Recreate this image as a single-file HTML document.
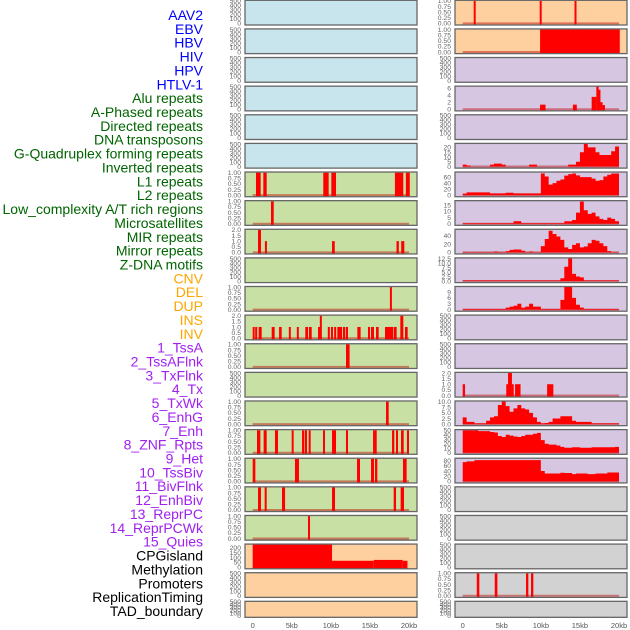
<!DOCTYPE html>
<html><head><meta charset="utf-8"><style>
html,body{margin:0;padding:0;background:#fff;}
svg{display:block;font-family:"Liberation Sans",sans-serif;}
</style></head><body>
<svg id="chart" width="630" height="630" viewBox="0 0 630 630">
<g id="labels"></g>
<g id="panels"></g>
<g id="xaxes"></g>
</svg>
<script>
// ---------- track labels ----------
const trackLabels = ["AAV2","EBV","HBV","HIV","HPV","HTLV-1","Alu repeats","A-Phased repeats","Directed repeats","DNA transposons","G-Quadruplex forming repeats","Inverted repeats","L1 repeats","L2 repeats","Low_complexity A/T rich regions","Microsatellites","MIR repeats","Mirror repeats","Z-DNA motifs","CNV","DEL","DUP","INS","INV","1_TssA","2_TssAFlnk","3_TxFlnk","4_Tx","5_TxWk","6_EnhG","7_Enh","8_ZNF_Rpts","9_Het","10_TssBiv","11_BivFlnk","12_EnhBiv","13_ReprPC","14_ReprPCWk","15_Quies","CPGisland","Methylation","Promoters","ReplicationTiming","TAD_boundary"];
const labelGroups = [6,13,5,15,5];
const groupColors = ["#0000ff","#006400","#ffa500","#a020f0","#000000"];

// ---------- x axis ----------
const xTickValues = [0,5,10,15,20];
const xTickLabels = ["0","5kb","10kb","15kb","20kb"];

// ---------- spike tracks (kb start, kb end, value) ----------
const L6s=[0.42,1.36,9.03,10.06,18.2,19.6], L6e=[1.02,1.79,9.72,10.66,19.27,20.1], L6v=[1,1,1,1,1,1];
const L7s=[2.34], L7e=[2.69], L7v=[1];
const L8s=[0.68,1.58,10.15,18.4,19.0], L8e=[1.06,1.8,10.5,18.7,19.4], L8v=[2,1,1,1,1];
const L10s=[17.57], L10e=[17.8], L10v=[1];
const L11s=[0,0.34,0.76,2.43,3.37,4.64,5.67,6.73,7.2,8.36,8.61,9.63,10.02,10.44,10.83,11.55,11.94,13.39,14.75,15.14,15.78,16.93,18.08,18.89,19.49];
const L11e=[0.25,0.55,1.15,2.81,3.71,4.86,5.88,7.08,7.55,8.61,8.83,9.85,10.27,10.66,11.43,11.85,12.19,13.81,15.01,15.52,16.12,18.0,18.42,19.27,19.83];
const L11v=[1,1,1,1,1,1,1,1,1,1,2,1,1,1,1,1,1,1,1,1,1,1,1,2,1];
const L12s=[11.94], L12e=[12.4], L12v=[1];
const L14s=[17.06], L14e=[17.4], L14v=[1];
const L15s=[0.55,1.4,2.85,4.99,6.31,6.65,7.16,9.0,10.15,11.94,15.4,17.83,18.34,18.98,19.74];
const L15e=[0.98,1.79,3.24,5.24,6.57,6.95,7.42,9.25,10.66,12.19,15.87,18.12,18.59,19.32,20.0];
const L15v=[1,1,1,1,1,1,1,1,1,1,1,1,1,1,1];
const L16s=[0,5.41,13.35,15.14,15.65,19.23], L16e=[0.34,5.92,13.73,15.52,15.95,19.7], L16v=[1,1,1,1,1,1];
const L17s=[0.68,1.53,3.75,10.15,18.04,18.93], L17e=[1.06,1.79,4.14,10.53,18.34,19.36], L17v=[1,1,1,1,1,1];
const L18s=[7.08], L18e=[7.33], L18v=[1];
const L19s=[0,10.15,15.5,19.2], L19e=[10.15,15.5,19.2,19.8], L19v=[240,66,75,66];
const R0s=[1.45,9.9,14.37], R0e=[1.62,10.06,14.5], R0v=[1,1,1];
const R1s=[9.9], R1e=[20.1], R1v=[1];
const R3s=[9.9,14.1,16.5,17.1,17.4,17.6,17.9], R3e=[10.6,14.6,17.1,17.4,17.6,17.9,18.2], R3v=[1.3,1.3,3.5,6.5,5.5,2,1.2];
const R13s=[0,5.6,5.8,6.3,6.7,10.8], R13e=[0.3,5.8,6.3,6.5,7.4,11.6], R13v=[1,1,2,1,1,1];
const R20s=[1.8,4.1,8.1,8.74], R20e=[2.13,4.44,8.4,9.04], R20v=[1,1,1,1];

// ---------- area tracks (0.5 kb bins, 0-20 kb) ----------
const R5bins=[2,1,0,0,0,0,0,2,3,3,2,0,0,0,0,0,0,2,2,0,0,0,0,0,0,0,0,2,2,5,15,24,20,20,15,12,12,12,16,21];
const R6bins=[5,9,9,9,9,9,9,6,6,6,6,8,8,6,6,6,6,6,6,6,72,62,35,40,48,52,65,70,72,66,60,60,60,55,48,50,62,68,72,72];
const R7bins=[0.5,0.5,0.5,0.5,0.5,0.5,0.5,0.5,0.5,0.5,0.5,0.5,0.5,2,2,0.5,0.5,0.5,0.5,0.5,0.5,0.5,0.5,0.5,0.5,0.5,2,2,3,9,18,11,8,9,6,4,3,5,4,2];
const R8bins=[1,0.5,0.5,0.5,0.5,0.5,0.5,0.5,2,1,0.5,3,6,7,7,4,0.5,2,0.5,0.5,15,32,52,44,38,30,12,8,18,22,12,14,22,30,28,22,15,3,0.5,0.5];
const R9bins=[0.3,0.3,0.3,0.3,0.3,0.3,0.3,0.3,0.3,0.3,0.3,0.3,0.3,0.3,0.3,0.3,0.3,0.3,0.3,0.3,0.3,0.3,0.3,0.3,0.3,1.5,8,13,4,2.5,2,0.3,0.3,0.3,0.3,0.3,0.3,0.3,0.3,0.3];
const R10bins=[0.3,0.3,0.3,0.3,0.3,0.3,0.3,0.3,0.3,0.3,0.3,1,1.5,2,3,1,1.5,3,1.5,1.5,0.3,0.3,0.3,0.3,0.3,5,12,12,6,2.5,1,0.3,0.3,0.3,0.3,0.3,0.3,0.3,0.3,0.3];
const R14bins=[3,1,1,0.3,0.3,0.3,1.5,3,3.5,8.5,10.5,8,5.5,7,8.5,7,6.5,5,3,1,0.3,0.5,1,2.5,2.5,3.5,3.5,3.5,1.5,1,1,1,1,0.3,0.3,0.3,0.3,0.3,0.3,0.3];
const R15bins=[50,50,50,50,48,48,48,46,45,37,35,40,38,36,35,37,40,40,42,44,28,20,18,18,16,13,11,11,12,12,11,11,11,12,12,12,12,12,12,13];
const R16bins=[74,77,77,82,82,82,82,82,82,82,82,82,82,82,82,82,82,82,82,82,40,30,30,30,30,33,32,32,28,30,30,30,28,28,30,30,30,34,34,34];

const NS="http://www.w3.org/2000/svg";
function mk(tag, attrs, parent){const e=document.createElementNS(NS,tag);for(const k in attrs)e.setAttribute(k,attrs[k]);if(parent)parent.appendChild(e);return e;}

// labels
const gL=document.getElementById('labels');
let gi=0, cnt=0;
trackLabels.forEach((t,i)=>{
  while(cnt>=labelGroups[gi]){cnt=0;gi++;}
  cnt++;
  const e=mk('text',{x:203,y:(15+i*13.86+5).toFixed(1),'text-anchor':'end','font-size':'14',fill:groupColors[gi]},gL);
  
  
  e.textContent=t;
});

// panel configs
const colX=[245,455], colZero=[252.7,462.7], PXKB=7.815, PW=172;
const spikeTracks={L6:[L6s,L6e,L6v],L7:[L7s,L7e,L7v],L8:[L8s,L8e,L8v],L10:[L10s,L10e,L10v],L11:[L11s,L11e,L11v],L12:[L12s,L12e,L12v],L14:[L14s,L14e,L14v],L15:[L15s,L15e,L15v],L16:[L16s,L16e,L16v],L17:[L17s,L17e,L17v],L18:[L18s,L18e,L18v],L19:[L19s,L19e,L19v],R0:[R0s,R0e,R0v],R1:[R1s,R1e,R1v],R3:[R3s,R3e,R3v],R13:[R13s,R13e,R13v],R20:[R20s,R20e,R20v]};
const areaTracks={R5:R5bins,R6:R6bins,R7:R7bins,R8:R8bins,R9:R9bins,R10:R10bins,R14:R14bins,R15:R15bins,R16:R16bins};
const T1=[[0,"0.00"],[0.25,"0.25"],[0.5,"0.50"],[0.75,"0.75"],[1,"1.00"]];
const T2=[[0,"0.0"],[0.5,"0.5"],[1,"1.0"],[1.5,"1.5"],[2,"2.0"]];
const TE=[[0,"0"],[100,"100"],[200,"200"],[300,"300"],[400,"400"],[500,"500"]];
const axes={L6:[1,T1],L7:[1,T1],L8:[2,T2],L10:[1,T1],L11:[2,T2],L12:[1,T1],L14:[1,T1],L15:[1,T1],L16:[1,T1],L17:[1,T1],L18:[1,T1],
 L19:[232,[[0,"0"],[50,"50"],[100,"100"],[150,"150"],[200,"200"]]],
 R0:[1,T1],R1:[1,T1],R3:[6.35,[[0,"0"],[2,"2"],[4,"4"],[6,"6"]]],
 R5:[23.6,[[0,"0"],[5,"5"],[10,"10"],[15,"15"],[20,"20"]]],
 R6:[75,[[0,"0"],[20,"20"],[40,"40"],[60,"60"]]],
 R7:[18.3,[[0,"0"],[5,"5"],[10,"10"],[15,"15"]]],
 R8:[54,[[0,"0"],[20,"20"],[40,"40"]]],
 R9:[12.6,[[0,"0.0"],[2.5,"2.5"],[5,"5.0"],[7.5,"7.5"],[10,"10.0"],[12.5,"12.5"]]],
 R10:[11.5,[[0,"0"],[3,"3"],[6,"6"],[9,"9"]]],
 R13:[2,T2],R14:[10,[[0,"0.0"],[2.5,"2.5"],[5,"5.0"],[7.5,"7.5"],[10,"10.0"]]],
 R15:[50,[[0,"0"],[10,"10"],[20,"20"],[30,"30"],[40,"40"],[50,"50"]]],
 R16:[87,[[0,"0"],[20,"20"],[40,"40"],[60,"60"],[80,"80"]]],
 R20:[1,T1]};

const gP=document.getElementById('panels');
for(let c=0;c<2;c++){
 for(let r=0;r<22;r++){
  const key=(c?'R':'L')+r;
  const top=r*28.62+0.3, h=(r===21)?16:24.7, bottom=top+h;
  let bg;
  if(c===0) bg = r<6?'#c8e4ec':(r<19?'#c8e0a3':'#fed09f');
  else bg = r<2?'#fed09f':(r<17?'#d6c6e2':'#d2d2d2');
  const g=mk('g',{},gP);
  
  
  const clipId='clip'+key;
  const cp=mk('clipPath',{id:clipId},g); mk('rect',{x:colX[c],y:top,width:PW,height:h},cp);
  const bgr=mk('rect',{x:colX[c],y:top,width:PW,height:h,fill:bg},g);
  
  
  const ax=axes[key]||[500,TE];
  const ymax=ax[0];
  const z0=bottom-1.6, span=h-2.2;
  const yS=v=>z0-v/ymax*span;
  const xS=kb=>colZero[c]+kb*PXKB;
  const marks=mk('g',{'clip-path':'url(#'+clipId+')'},g);
  const hasData = spikeTracks[key]||areaTracks[key];
  if(hasData && key!=='L19'){
    const bl=mk('line',{x1:xS(0),x2:xS(20),y1:yS(0),y2:yS(0),stroke:'rgba(190,0,0,0.45)','stroke-width':2},marks);
    
    
  }
  if(spikeTracks[key]){
    const [s,e,v]=spikeTracks[key];
    for(let i=0;i<s.length;i++){
      let x1=xS(s[i]), x2=xS(e[i]); if(x2-x1<2){const m=(x1+x2)/2;x1=m-1;x2=m+1;}
      const b=mk('rect',{x:x1.toFixed(2),y:yS(v[i]).toFixed(2),width:(x2-x1).toFixed(2),height:(yS(0)-yS(v[i])+1.6).toFixed(2),fill:'#ff0000'},marks);
      
      
    }
  }
  if(areaTracks[key]){
    const bins=areaTracks[key];
    let d='M'+xS(0).toFixed(2)+' '+yS(0).toFixed(2);
    bins.forEach((v,i)=>{d+=' L'+xS(i*0.5).toFixed(2)+' '+yS(v).toFixed(2)+' L'+xS((i+1)*0.5).toFixed(2)+' '+yS(v).toFixed(2);});
    d+=' L'+xS(20).toFixed(2)+' '+yS(0).toFixed(2)+' Z';
    const p=mk('path',{d:d,fill:'#ff0000'},marks);
    
    
  }
  const fr=mk('rect',{x:colX[c],y:top,width:PW,height:h,fill:'none',stroke:'#666','stroke-width':1.3},g);
  
  
  ax[1].forEach(([v,lab])=>{
    const t=mk('text',{x:colX[c]-4,y:(yS(v)+2.3).toFixed(2),'text-anchor':'end','font-size':'6.8',fill:'#666'},g);
    
    
    t.textContent=lab;
  });
 }
}
// x axes
const gX=document.getElementById('xaxes');
for(let c=0;c<2;c++){
  xTickValues.forEach((v,i)=>{
    const t=mk('text',{x:(colZero[c]+v*PXKB).toFixed(1),y:628,'text-anchor':'middle','font-size':'7.5',fill:'#555'},gX);
    
    
    t.textContent=xTickLabels[i];
  });
}
</script>
</body></html>
